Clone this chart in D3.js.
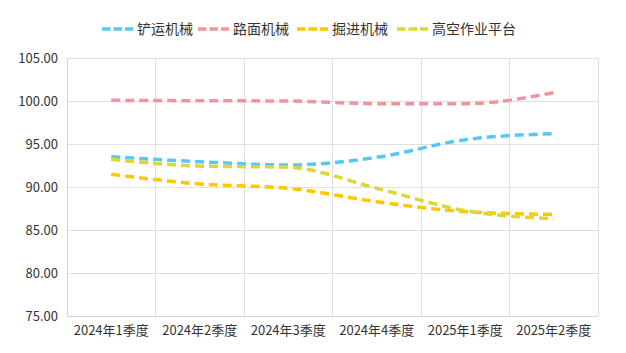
<!DOCTYPE html>
<html><head><meta charset="utf-8">
<script src="https://cdn.jsdelivr.net/npm/d3@7/dist/d3.min.js"></script>
<style>html,body{margin:0;padding:0;background:#fff;}svg{display:block;}</style>
</head><body><svg id="c" width="626" height="353"></svg>
<script>
const categories = ["2024年1季度","2024年2季度","2024年3季度","2024年4季度","2025年1季度","2025年2季度"];
const seriesNames = ["铲运机械","路面机械","掘进机械","高空作业平台"];
const shovel = [93.52, 92.94, 92.56, 93.45, 95.50, 96.20];
const road = [100.08, 100.03, 100.00, 99.69, 99.69, 100.97];
const tunnel = [91.48, 90.35, 89.85, 88.29, 87.13, 86.80];
const aerial = [93.22, 92.44, 92.29, 89.85, 87.25, 86.31];
const yTicks = [75, 80, 85, 90, 95, 100, 105];
const colors = ["#55c9f5", "#f4939b", "#fec700", "#dcd637"];
const allSeries = [shovel, road, tunnel, aerial];

const font = "'Noto Sans CJK SC', 'Noto Sans', sans-serif";
const svg = d3.select("#c");
const L = 67, R = 598, T = 58, B = 316;
const x = d3.scaleBand().domain(categories).range([L, R]);
const y = d3.scaleLinear().domain([75, 105]).range([B, T]);

// horizontal grid
svg.append("g").selectAll("line").data(yTicks).join("line")
  .attr("x1", L).attr("x2", R).attr("y1", d => y(d)).attr("y2", d => y(d))
  .attr("stroke", "#e0e0e0").attr("stroke-width", 1).attr("shape-rendering","crispEdges");
// vertical grid
const xb = categories.map(c => x(c)).concat([R]);
svg.append("g").selectAll("line").data(xb).join("line")
  .attr("x1", d => d).attr("x2", d => d).attr("y1", T).attr("y2", B)
  .attr("stroke", "#e0e0e0").attr("stroke-width", 1).attr("shape-rendering","crispEdges");
// axis lines
svg.append("line").attr("x1", L).attr("x2", L).attr("y1", T).attr("y2", B).attr("stroke", "#d4d4d4").attr("shape-rendering","crispEdges");
svg.append("line").attr("x1", L).attr("x2", R).attr("y1", B).attr("y2", B).attr("stroke", "#d4d4d4").attr("shape-rendering","crispEdges");

// y labels
svg.append("g").selectAll("text").data(yTicks).join("text")
  .attr("x", 58).attr("y", d => y(d)).attr("dy", "0.35em")
  .attr("text-anchor", "end").attr("font-family", font).attr("font-size", 13)
  .attr("fill", "#333").text(d => d.toFixed(2));
// x labels
svg.append("g").selectAll("text").data(categories).join("text")
  .attr("x", d => x(d) + x.bandwidth() / 2).attr("y", 330).attr("dy", "0.35em")
  .attr("text-anchor", "middle").attr("font-family", font).attr("font-size", 13)
  .attr("fill", "#333").text(d => d);

// lines
const line = d3.line()
  .x((d, i) => x(categories[i]) + x.bandwidth() / 2)
  .y(d => y(d))
  .curve(d3.curveMonotoneX);
allSeries.forEach((s, k) => {
  svg.append("path").attr("d", line(s)).attr("fill", "none")
    .attr("stroke", colors[k]).attr("stroke-width", 3.5)
    .attr("stroke-dasharray", "9 5");
});

// legend
const legendX = [102, 198, 297, 397];
const lg = svg.append("g");
seriesNames.forEach((n, k) => {
  const g = lg.append("g").attr("transform", `translate(${legendX[k]},29)`);
  g.append("line").attr("x1", 0).attr("x2", 31).attr("y1", 0).attr("y2", 0)
    .attr("stroke", colors[k]).attr("stroke-width", 3.5).attr("stroke-dasharray", "8.5 3");
  g.append("text").attr("x", 35).attr("y", 0).attr("dy", "0.35em")
    .attr("font-family", font).attr("font-size", 14).attr("fill", "#333").text(n);
});
</script></body></html>
